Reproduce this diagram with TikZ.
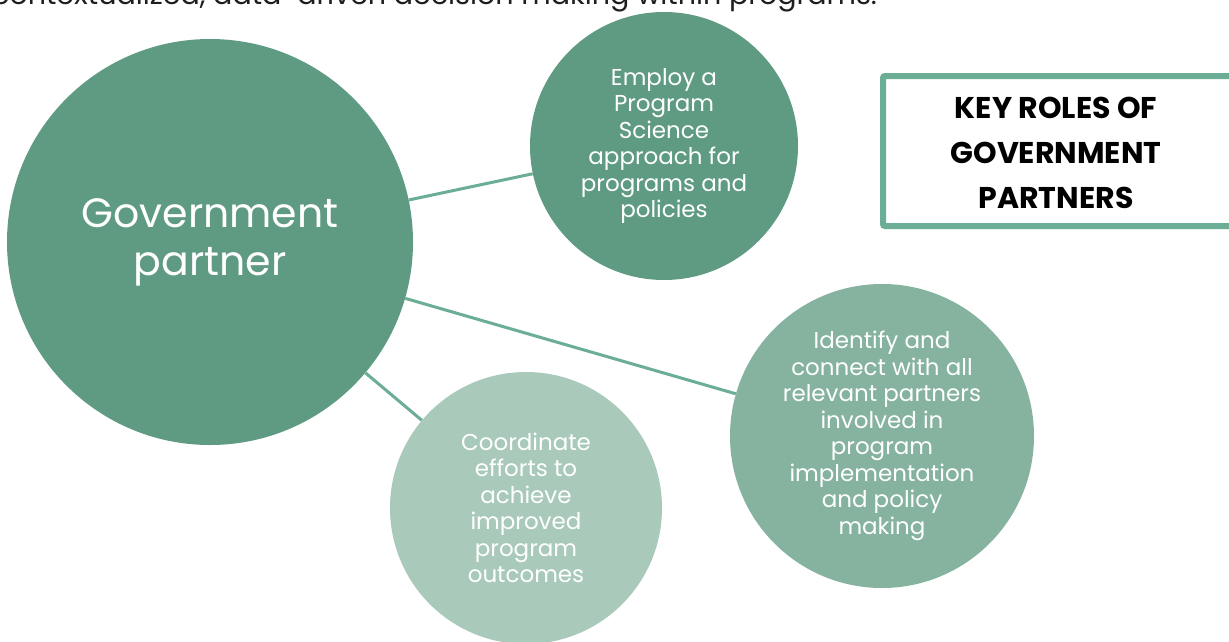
\documentclass[tikz,border=0pt]{standalone}
\usepackage{fontspec}
\setmainfont{Poppins}
\definecolor{deepgreen}{HTML}{5F9B82}
\definecolor{midgreen}{HTML}{85B39F}
\definecolor{palegreen}{HTML}{A9CABB}
\definecolor{linkgreen}{HTML}{6BAE95}
\definecolor{inktext}{HTML}{1E1E1E}
\begin{document}
\begin{tikzpicture}[x=1pt,y=-1pt,
  role/.style={circle,inner sep=0pt,draw=none,text=white,align=center,
    font=\fontsize{23}{26.5}\selectfont},
  link/.style={draw=linkgreen,line width=3pt},
  titlebox/.style={draw=linkgreen,line width=6pt,fill=white,rounded corners=2pt}]
\useasboundingbox (0,0) rectangle (1229,641);
\clip (0,0) rectangle (1229,641);
\fill[white] (0,0) rectangle (1229,641);

% running text of the page, cut by the top edge
\node[anchor=base west,inner sep=0pt,text=inktext,xscale=1.02,
  font=\fontsize{28}{30}\selectfont] (lead) at (-8,4)
  {contextualized, data-driven decision making within programs.};

% role circles
\node[role,fill=deepgreen,minimum size=406pt,
  font=\fontsize{41}{48}\selectfont] (gov) at (210,242)
  {Government\\partner};
\node[role,fill=deepgreen,minimum size=268pt] (employ) at (664,146)
  {Employ a\\Program\\Science\\approach for\\programs and\\policies};
\node[role,fill=midgreen,minimum size=304pt] (identify) at (882,436)
  {Identify and\\connect with all\\relevant partners\\involved in\\program\\implementation\\and policy\\making};
\node[role,fill=palegreen,minimum size=272pt] (coord) at (526,508)
  {Coordinate\\efforts to\\achieve\\improved\\program\\outcomes};

% connectors
\draw[link] (gov) -- (employ);
\draw[link] (gov) -- (identify);
\draw[link] (gov) -- (coord);

% heading box
\draw[titlebox] (883,76) rectangle (1240,226);
\node[align=center,text=black,font=\bfseries\fontsize{30}{45}\selectfont]
  (heading) at (1056,153) {KEY ROLES OF\\GOVERNMENT\\PARTNERS};
\end{tikzpicture}
\end{document}
